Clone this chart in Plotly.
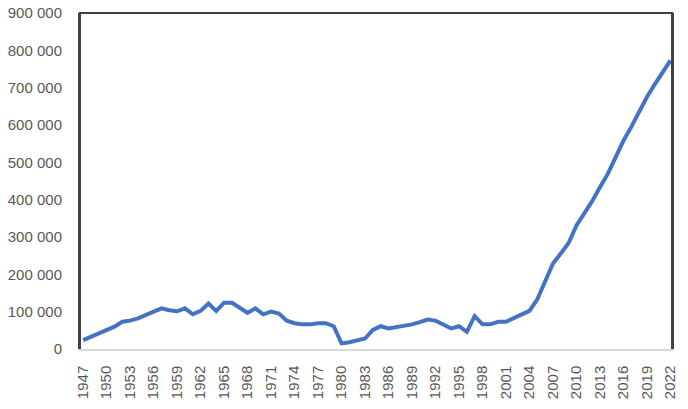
import plotly.graph_objects as go

# yearly values
years = list(range(1947, 2023))
values = [
    24000, 33000, 42000, 51000, 60000, 73000, 76000, 82000, 91000, 102000,   # 1947-1956
    109000, 104000, 101000, 109000, 93000, 102000, 122000, 102000, 124000, 124000,  # 1957-1966
    109000, 97000, 109000, 93000, 100000, 95000, 76000, 69000, 66000, 66000,  # 1967-1976
    69000, 69000, 61000, 15000, 18000, 24000, 28000, 51000, 61000, 55000,  # 1977-1986
    58000, 63000, 66000, 72000, 79000, 76000, 66000, 55000, 61000, 46000,  # 1987-1996
    88000, 66000, 66000, 73000, 73000, 82000, 93000, 102000, 133000, 180000,  # 1997-2006
    229000, 256000, 284000, 331000, 362000, 396000, 433000, 469000, 513000, 558000,  # 2007-2016
    595000, 638000, 675000, 709000, 743000, 773000,  # 2017-2022
]
tick_years = list(range(1947, 2023, 3))
y_ticks = list(range(0, 900001, 100000))

fig = go.Figure()

fig.add_trace(go.Scatter(
    x=years, y=values,
    mode="lines",
    line=dict(color="#4472C4", width=4),
    hoverinfo="x+y",
))

# dark frame on left, top and right; the bottom is the light x axis line
fig.add_shape(
    type="path", xref="paper", yref="paper",
    path="M 0,0 L 0,1 L 1,1 L 1,0",
    line=dict(color="#404040", width=2),
    layer="above",
)

fig.update_layout(
    width=688, height=409,
    margin=dict(l=80, r=16, t=13, b=60, autoexpand=False),
    paper_bgcolor="white", plot_bgcolor="white",
    separators=", ",
    showlegend=False,
    font=dict(family="Liberation Sans, Arial, sans-serif", size=15, color="#595959"),
    xaxis=dict(
        range=[1946.6, 2022.2],
        tickvals=tick_years,
        tickangle=-90,
        showgrid=False, zeroline=False,
        showline=True, linecolor="#D9D9D9", linewidth=1.5,
        ticks="", ticklabelstandoff=9,
        automargin=False, ticklabeloverflow="allow",
    ),
    yaxis=dict(
        range=[0, 900000],
        tickvals=y_ticks,
        tickformat=",d",
        showgrid=False, zeroline=False,
        showline=True, mirror=True, linecolor="#404040", linewidth=2,
        ticks="", ticklabelstandoff=13,
        automargin=False, ticklabeloverflow="allow",
    ),
)

# drop the page's default body margin so the figure sits at the window corner
fig.write_html(
    "out.html",
    config={"displayModeBar": False},
    post_script="document.body.style.margin = '0';",
)
